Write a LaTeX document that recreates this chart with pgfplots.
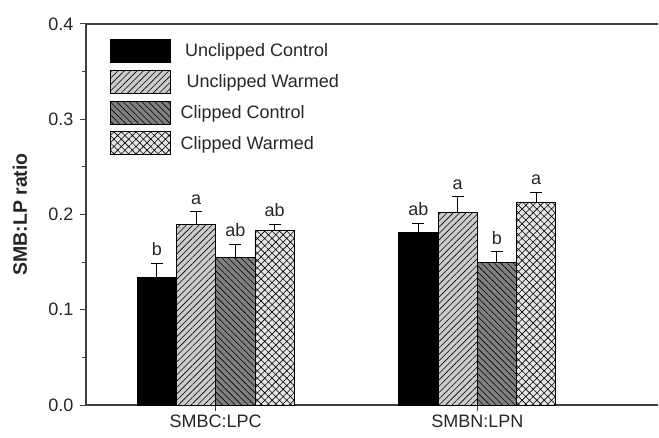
\documentclass[border=0pt]{standalone}
\usepackage{fontspec}
\setmainfont{Liberation Sans}
\usepackage{pgfplots}
\pgfplotsset{compat=1.18}
\usepackage{pgfplotstable}
\usetikzlibrary{patterns.meta}

\pgfplotstableread{
x y e
-0.225 0.134 0.015
0.775 0.181 0.010
}\UC
\pgfplotstableread{
x y e
-0.075 0.190 0.013
0.925 0.2026 0.016
}\UW
\pgfplotstableread{
x y e
0.075 0.155 0.014
1.075 0.150 0.011
}\CC
\pgfplotstableread{
x y e
0.225 0.183 0.007
1.225 0.2124 0.011
}\CW
\pgfplotstableread{
x y lbl
-0.225 0.149 b
-0.075 0.203 a
0.075 0.169 ab
0.225 0.190 ab
0.775 0.191 ab
0.925 0.219 a
1.075 0.161 b
1.225 0.2236 a
}\Letters

\newcommand{\fs}{\fontsize{18}{21}\selectfont}

\begin{document}
\begin{tikzpicture}
\begin{axis}[
  scale only axis, width=572pt, height=381pt,
  xmin=-0.496, xmax=1.691, ymin=0, ymax=0.4,
  axis x line=box, axis y line=left,
  axis line style={-, draw=black!75, line width=1.1pt},
  xtick={0,1}, xticklabels={SMBC:LPC, SMBN:LPN}, xtick pos=bottom,
  ytick={0,0.1,0.2,0.3,0.4}, minor y tick num=1, ytick pos=left,
  tick align=outside, major tick length=6pt, minor tick length=4pt,
  tick style={draw=black!75, line width=1pt},
  yticklabel style={xshift=-3pt, /pgf/number format/.cd, fixed, fixed zerofill, precision=1, assume math mode=true},
  tick label style={font=\fs, text=black!85},
  ylabel={\bfseries SMB:LP ratio},
  every axis y label/.style={at={(axis description cs:0,0.5)}, xshift=-66pt, rotate=90, anchor=center, font=\fontsize{19.5}{22}\selectfont, text=black!85},
  legend style={draw=none, fill=none, anchor=north west, at={(axis description cs:0.042,0.961)}, inner sep=0pt, row sep=7pt, column sep=12pt, font=\fs, text=black!85},
  legend cell align=left,
  legend image code/.code={\draw[#1, line width=0.8pt] (0pt,-11.5pt) rectangle (60pt,11.5pt);},
]
\addplot[ybar, bar width=0.15, bar shift=0pt, draw=black, line width=0.8pt, fill=black,
  error bars/.cd, y dir=plus, y explicit, error bar style={line width=1pt, black}, error mark options={rotate=90, mark size=6pt, line width=1pt, black}]
  table[x=x, y=y, y error=e] {\UC};
\addlegendentry{Unclipped Control}
\addplot[ybar, bar width=0.15, bar shift=0pt, draw=black, line width=0.8pt, fill=black!20,
  postaction={pattern={Lines[angle=45, distance=4.5pt, line width=0.6pt]}},
  error bars/.cd, y dir=plus, y explicit, error bar style={line width=1pt, black}, error mark options={rotate=90, mark size=6pt, line width=1pt, black}]
  table[x=x, y=y, y error=e] {\UW};
\addlegendentry{\hspace{1.5pt}Unclipped Warmed}
\addplot[ybar, bar width=0.15, bar shift=0pt, draw=black, line width=0.8pt, fill=black!50,
  postaction={pattern={Lines[angle=-45, distance=4.5pt, line width=0.6pt]}},
  error bars/.cd, y dir=plus, y explicit, error bar style={line width=1pt, black}, error mark options={rotate=90, mark size=6pt, line width=1pt, black}]
  table[x=x, y=y, y error=e] {\CC};
\addlegendentry{\hspace{-4.5pt}Clipped Control}
\addplot[ybar, bar width=0.15, bar shift=0pt, draw=black, line width=0.8pt, fill=black!10,
  postaction={pattern={Hatch[angle=45, distance=5.2pt, line width=0.6pt]}},
  error bars/.cd, y dir=plus, y explicit, error bar style={line width=1pt, black}, error mark options={rotate=90, mark size=6pt, line width=1pt, black}]
  table[x=x, y=y, y error=e] {\CW};
\addlegendentry{\hspace{-4.5pt}Clipped Warmed}
\addplot[draw=none, mark=none, forget plot, nodes near coords, point meta=explicit symbolic,
  nodes near coords style={anchor=south, inner sep=0pt, yshift=7pt, font=\fs, text=black!85}]
  table[x=x, y=y, meta=lbl] {\Letters};
\end{axis}
\path (current axis.south west) ++(-86pt,-32pt) rectangle ++(659pt,437pt);
\end{tikzpicture}
\end{document}
